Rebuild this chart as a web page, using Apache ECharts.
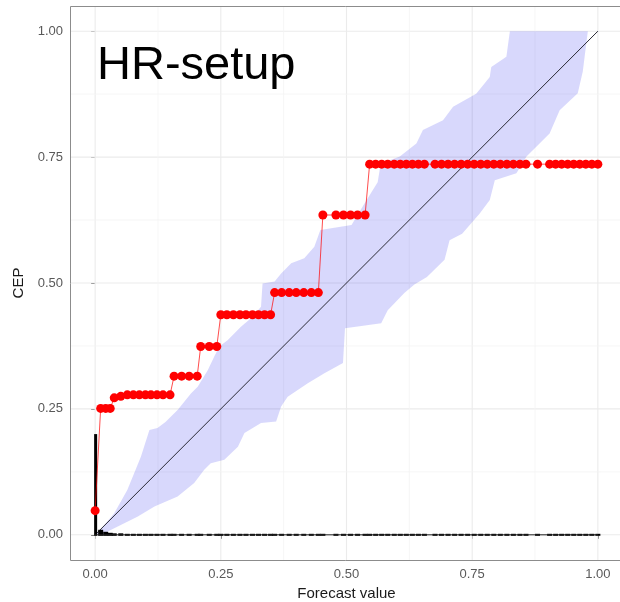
<!DOCTYPE html>
<html>
<head>
<meta charset="utf-8">
<script src="https://cdn.jsdelivr.net/npm/echarts@6/dist/echarts.min.js"></script>
<style>
  html, body { margin: 0; padding: 0; background: #ffffff; }
  #chart { width: 620px; height: 602px; }
</style>
</head>
<body>
<div id="chart"></div>
<script>
// Distinct forecast values and their conditional event probabilities (CEP)
const forecastX = [
  0.000,
  0.011, 0.021, 0.030,
  0.038, 0.051, 0.064, 0.076, 0.088, 0.100, 0.111, 0.123, 0.135, 0.149,
  0.157, 0.172, 0.187, 0.203,
  0.210, 0.227, 0.242,
  0.250, 0.262, 0.275, 0.288, 0.300, 0.313, 0.325, 0.337, 0.349,
  0.357, 0.371, 0.386, 0.400, 0.415, 0.430, 0.444,
  0.453, 0.479, 0.494, 0.508, 0.522, 0.537,
  0.546, 0.558, 0.570, 0.582, 0.595, 0.607, 0.619, 0.631, 0.643, 0.655,
  0.676, 0.689, 0.702, 0.715, 0.728, 0.741, 0.754, 0.767, 0.780, 0.793, 0.806, 0.819, 0.832, 0.845, 0.857,
  0.880,
  0.904, 0.916, 0.928, 0.940, 0.952, 0.964, 0.976, 0.988, 1.000
];
const cepY = [
  0.048,
  0.251, 0.251, 0.251,
  0.272, 0.275, 0.278, 0.278, 0.278, 0.278, 0.278, 0.278, 0.278, 0.278,
  0.315, 0.315, 0.315, 0.315,
  0.374, 0.374, 0.374,
  0.437, 0.437, 0.437, 0.437, 0.437, 0.437, 0.437, 0.437, 0.437,
  0.481, 0.481, 0.481, 0.481, 0.481, 0.481, 0.481,
  0.635, 0.635, 0.635, 0.635, 0.635, 0.635,
  0.736, 0.736, 0.736, 0.736, 0.736, 0.736, 0.736, 0.736, 0.736, 0.736,
  0.736, 0.736, 0.736, 0.736, 0.736, 0.736, 0.736, 0.736, 0.736, 0.736, 0.736, 0.736, 0.736, 0.736, 0.736,
  0.736,
  0.736, 0.736, 0.736, 0.736, 0.736, 0.736, 0.736, 0.736, 0.736
];
// Scaled frequency of each forecast value (histogram along the bottom)
const histFreq = [
  0.200,
  0.010, 0.006, 0.004,
  0.003, 0.003, 0.002, 0.002, 0.002, 0.002, 0.002, 0.002, 0.002, 0.002,
  0.002, 0.002, 0.002, 0.002,
  0.002, 0.002, 0.002,
  0.002, 0.002, 0.002, 0.002, 0.002, 0.002, 0.002, 0.002, 0.002,
  0.002, 0.002, 0.002, 0.002, 0.002, 0.002, 0.002,
  0.002, 0.002, 0.002, 0.002, 0.002, 0.002,
  0.002, 0.002, 0.002, 0.002, 0.002, 0.002, 0.002, 0.002, 0.002, 0.002,
  0.002, 0.002, 0.002, 0.002, 0.002, 0.002, 0.002, 0.002, 0.002, 0.002, 0.002, 0.002, 0.002, 0.002, 0.002,
  0.002,
  0.002, 0.002, 0.002, 0.002, 0.002, 0.002, 0.002, 0.002, 0.002
];
// Consistency band: upper and lower bounds, [forecast, CEP]
const bandUpper = [
  [0, 0], [0.008, 0.007], [0.038, 0.043], [0.064, 0.089], [0.091, 0.155], [0.108, 0.208],
  [0.124, 0.212], [0.140, 0.224], [0.164, 0.248], [0.191, 0.281], [0.204, 0.294], [0.224, 0.327],
  [0.237, 0.354], [0.247, 0.374], [0.264, 0.387], [0.290, 0.413], [0.310, 0.430], [0.330, 0.453],
  [0.333, 0.499], [0.357, 0.503], [0.370, 0.519], [0.390, 0.539], [0.416, 0.549], [0.436, 0.572],
  [0.448, 0.605], [0.510, 0.615], [0.537, 0.660], [0.562, 0.700], [0.568, 0.737], [0.606, 0.751],
  [0.639, 0.777], [0.652, 0.804], [0.692, 0.823], [0.712, 0.850], [0.758, 0.876], [0.785, 0.909],
  [0.788, 0.929], [0.818, 0.949], [0.825, 1.000], [0.980, 1.000]
];
const bandLower = [
  [0, 0], [0.018, 0.003], [0.058, 0.023], [0.084, 0.036], [0.118, 0.056], [0.164, 0.076],
  [0.197, 0.103], [0.217, 0.129], [0.230, 0.142], [0.257, 0.149], [0.284, 0.175], [0.297, 0.202],
  [0.330, 0.222], [0.360, 0.225], [0.370, 0.255], [0.383, 0.274], [0.423, 0.301], [0.456, 0.321],
  [0.493, 0.341], [0.497, 0.410], [0.569, 0.420], [0.582, 0.446], [0.615, 0.480], [0.635, 0.497],
  [0.660, 0.512], [0.695, 0.546], [0.705, 0.585], [0.730, 0.598], [0.765, 0.638], [0.785, 0.665],
  [0.795, 0.704], [0.838, 0.718], [0.858, 0.751], [0.904, 0.797], [0.924, 0.843], [0.960, 0.877],
  [0.970, 0.920], [0.980, 1.000]
];
const tickValues = [0, 0.25, 0.5, 0.75, 1];
const minorValues = [0.125, 0.375, 0.625, 0.875];

const AX_MIN = -0.05, AX_MAX = 1.05;
const FONT = '"Liberation Sans", Arial, Helvetica, sans-serif';

const chart = echarts.init(document.getElementById('chart'), null, { renderer: 'canvas' });

function gridLineItem(params, api) {
  const v = api.value(0);
  const major = api.value(1) === 1;
  const a = api.coord([v, AX_MIN]), b = api.coord([v, AX_MAX]);
  const c = api.coord([AX_MIN, v]), d = api.coord([AX_MAX, v]);
  const style = { stroke: major ? '#ebebeb' : '#f4f4f4', lineWidth: major ? 1.1 : 0.8 };
  return {
    type: 'group',
    children: [
      { type: 'line', shape: { x1: a[0], y1: a[1], x2: b[0], y2: b[1] }, style },
      { type: 'line', shape: { x1: c[0], y1: c[1], x2: d[0], y2: d[1] }, style }
    ]
  };
}

// Panel frame drawn from the axis extent
function frameItem(params, api) {
  const tl = api.coord([AX_MIN, AX_MAX]);
  const br = api.coord([AX_MAX, AX_MIN]);
  return {
    type: 'rect',
    shape: { x: Math.round(tl[0]) + 0.5, y: Math.round(tl[1]) + 0.5, width: br[0] - tl[0], height: br[1] - tl[1] },
    style: { fill: 'none', stroke: '#8c8c8c', lineWidth: 1 }
  };
}

const gridData = tickValues.map(v => [v, 1]).concat(minorValues.map(v => [v, 0]));

const axisCommon = {
  type: 'value',
  min: AX_MIN,
  max: AX_MAX,
  axisLine: { show: false },
  splitLine: { show: false },
  axisTick: { show: true, customValues: tickValues, length: 4, lineStyle: { color: '#555', width: 1 } },
  axisLabel: {
    customValues: tickValues,
    formatter: v => v.toFixed(2),
    fontSize: 13,
    color: '#595959',
    fontFamily: FONT
  },
  nameLocation: 'middle',
  nameTextStyle: { fontSize: 15, color: '#1a1a1a', fontFamily: FONT }
};

chart.setOption({
  animation: false,
  backgroundColor: '#ffffff',
  grid: {
    left: 70, top: 6, width: 553, height: 554,
    outerBoundsMode: 'none',
    containLabel: false,
    show: false
  },
  xAxis: Object.assign({}, axisCommon, {
    name: 'Forecast value', nameGap: 24,
    axisLabel: Object.assign({}, axisCommon.axisLabel, { margin: 8 })
  }),
  yAxis: Object.assign({}, axisCommon, {
    name: 'CEP', nameGap: 42,
    axisLabel: Object.assign({}, axisCommon.axisLabel, { margin: 7 })
  }),
  graphic: [{
    type: 'text', x: 97, y: 66, z: 100,
    style: { text: 'HR-setup', fontSize: 47, fontFamily: FONT, fill: '#000', verticalAlign: 'middle' }
  }],
  series: [
    {
      type: 'custom', name: 'grid', silent: true, clip: true, z: 1,
      data: gridData, renderItem: gridLineItem
    },
    {
      type: 'custom', name: 'band', silent: true, clip: true, z: 2,
      data: [[0, 0]],
      renderItem: (params, api) => {
        const pts = bandUpper.map(p => api.coord(p))
          .concat(bandLower.slice().reverse().map(p => api.coord(p)));
        return { type: 'polygon', shape: { points: pts }, style: { fill: 'rgba(40,40,240,0.18)' } };
      }
    },
    {
      type: 'line', name: 'diagonal', silent: true, z: 3,
      data: [[0, 0], [1, 1]], symbol: 'none',
      lineStyle: { color: '#2a2a35', width: 1 }
    },
    {
      type: 'line', name: 'baseline', silent: true, z: 4,
      data: [[0, 0], [1, 0]], symbol: 'none',
      lineStyle: { color: '#222', width: 1 }
    },
    {
      type: 'custom', name: 'histogram', silent: true, clip: true, z: 4,
      data: forecastX.map((x, i) => [x, histFreq[i]]),
      renderItem: (params, api) => {
        const p0 = api.coord([api.value(0), 0]);
        const p1 = api.coord([api.value(0), api.value(1)]);
        const first = params.dataIndex === 0;
        const w = first ? 3 : 5;
        const top = Math.min(p1[1], p0[1] - 1);
        return {
          type: 'rect',
          shape: { x: p0[0] - w / 2 + (first ? 0.5 : 0), y: top, width: w, height: p0[1] + 1 - top },
          style: { fill: '#000000' }
        };
      }
    },
    {
      type: 'line', name: 'CEP', silent: true, z: 5,
      data: forecastX.map((x, i) => [x, cepY[i]]),
      symbol: 'circle', symbolSize: 9, showSymbol: true,
      itemStyle: { color: '#ff0000' },
      lineStyle: { color: '#ff0000', width: 0.7 }
    },
    {
      type: 'custom', name: 'frame', silent: true, clip: false, z: 6,
      data: [[0, 0]], renderItem: frameItem
    }
  ]
});
</script>
</body>
</html>
